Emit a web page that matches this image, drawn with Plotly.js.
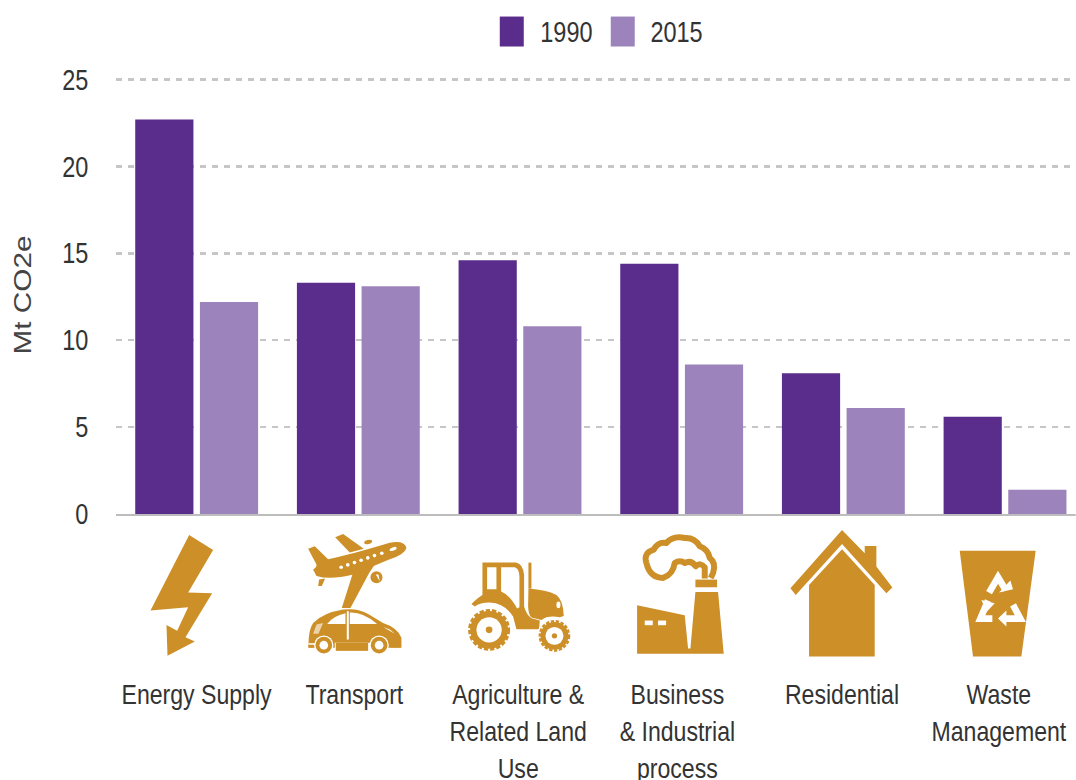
<!DOCTYPE html>
<html>
<head>
<meta charset="utf-8">
<script src="https://cdn.plot.ly/plotly-3.0.1.min.js"></script>
<style>
html,body{margin:0;padding:0;background:#fff;overflow:hidden;width:1076px;height:780px}
#chart{transform:scaleX(0.81);transform-origin:0 0}
</style>
</head>
<body>
<div id="chart"></div>
<script>
const categories = ["Energy Supply","Transport","Agriculture &<br>Related Land<br>Use","Business<br>& Industrial<br>process","Residential","Waste<br>Management"];
const labelShift = [0,-4,-2,-4,-1,-6];
const values1990 = [22.7,13.3,14.6,14.4,8.1,5.6];
const values2015 = [12.2,13.1,10.8,8.6,6.1,1.4];
const yTicks = [0,5,10,15,20,25];
const colour1990 = "#5a2d8c", colour2015 = "#9c83bc", iconColour = "#cd8f28";
const FONT = '"Liberation Sans",Arial,sans-serif';
const TEXT = "#333333";

// the reference is a horizontally squeezed picture; the page does the same
const S=0.81;
const yTop=25.2;
const L=116,B=514,W=960,H=435*yTop/25;
const px=x=>(x-L)/W, py=y=>(B-y)/H;

const G=iconColour;
const icons=[
 {o:[120,520,110,150],s:`<polygon fill="${G}" points="208,45 280,90 205,218 277,220 197,352 225,365 143,408 140,315 172,333 205,262 92,272"/>`},
 {o:[300,528,110,135],s:`<g fill="${G}">
   <path d="M25,62 L45,55 L85,94 Q150,80 270,44 Q314,36 320,60 Q314,80 270,94 L160,140 Q90,157 50,144 L40,125 Q52,118 50,110 Z"/>
   <path d="M106,28 L130,18 L192,62 L150,74 Z"/>
   <path d="M160,133 L228,105 L208,135 L152,240 L126,240 Z"/>
   <ellipse cx="205" cy="42" rx="12" ry="6" transform="rotate(-15 205 42)"/>
   <circle cx="230" cy="148" r="18"/>
   <path d="M58,155 L76,152 L66,174 L55,174 Z"/>
   <path d="M26,352 Q26,305 40,285 Q70,255 130,245 Q175,240 205,258 L250,285 Q295,300 305,330 L305,360 H262 V345 H205 V345 H105 V360 H26 Z"/>
   </g>
   <g fill="#fff">
   <circle cx="124" cy="118" r="5.5"/><circle cx="144" cy="111" r="5.5"/><circle cx="164" cy="104" r="5.5"/><circle cx="184" cy="97" r="5.5"/><circle cx="204" cy="90" r="5.5"/><circle cx="224" cy="83" r="5.5"/><circle cx="246" cy="76" r="5.5"/>
   <ellipse cx="280" cy="63" rx="11" ry="5" transform="rotate(-20 280 63)"/>
   <path d="M228,140 L240,160 L236,140 Z"/>
   <path d="M82,288 Q100,264 137,256 V288 Z"/>
   <path d="M150,254 Q190,252 232,288 H150 Z"/>
   <rect x="141" y="250" width="6" height="85"/>
   <path d="M50,290 L40,318 L56,318 L70,285 Z" fill-opacity="0.6"/>
   <path d="M250,297 L285,318 L270,305 Z"/>
   <circle cx="72" cy="352" r="29"/><circle cx="238" cy="352" r="29"/>
   <rect x="26" y="346" width="20" height="5"/>
   </g>
   <g fill="${G}"><rect x="108" y="345" width="97" height="24"/><circle cx="72" cy="352" r="25"/><circle cx="238" cy="352" r="25"/><rect x="26" y="351" width="14" height="8"/><rect x="272" y="351" width="30" height="8"/></g>
   <g fill="#fff"><circle cx="72" cy="352" r="13"/><circle cx="238" cy="352" r="13"/></g>`},
 {o:[460,550,120,115],s:`<g fill="${G}">
   <path d="M68,38 H168 Q190,42 193,75 L193,170 Q200,195 215,205 L240,212 L238,238 H170 L160,200 Q135,160 90,158 Q60,158 45,170 L35,162 Q55,142 68,135 Z"/>
   <rect x="206" y="38" width="9" height="78"/>
   <path d="M206,116 Q260,120 290,135 Q310,150 312,198 L300,202 Q265,195 245,210 L215,203 Q206,195 205,170 Z"/></g>
   <rect x="82" y="52" width="28" height="66" fill="#fff"/>
   <path d="M124,52 H165 Q178,55 179,80 V172 L172,176 Q150,135 124,125 Z" fill="#fff"/>
   <ellipse cx="296" cy="165" rx="6" ry="10" fill="#fff"/>
   <circle cx="88" cy="240" r="70" fill="#fff"/><circle cx="284" cy="258" r="52" fill="#fff"/>
   <circle cx="88" cy="240" r="57" fill="${G}"/>
   <circle cx="88" cy="240" r="59" fill="none" stroke="${G}" stroke-width="8" stroke-dasharray="13 6"/>
   <circle cx="88" cy="240" r="38" fill="#fff"/><circle cx="88" cy="240" r="10" fill="${G}"/>
   <circle cx="284" cy="258" r="42" fill="${G}"/>
   <circle cx="284" cy="258" r="44" fill="none" stroke="${G}" stroke-width="7" stroke-dasharray="10 5"/>
   <circle cx="284" cy="258" r="27" fill="#fff"/><circle cx="284" cy="258" r="8" fill="${G}"/>`},
 {o:[630,528,100,135],s:`<path fill="${G}" d="M22,232 L165,262 L175,362 H182 L197,192 H265 L282,378 H22 Z"/>
   <rect x="197" y="155" width="65" height="23" fill="${G}"/>
   <rect x="45" y="278" width="24" height="14" fill="#fff"/><rect x="85" y="278" width="24" height="14" fill="#fff"/>
   <path fill="none" stroke="${G}" stroke-width="18" stroke-linejoin="round" d="M50,105 Q40,75 72,65 Q85,40 110,45 Q130,22 165,30 Q195,28 210,55 Q235,65 240,90 Q260,105 250,135 L243,150 M225,152 V118 Q212,102 198,115 Q185,95 165,105 Q150,95 135,105 Q130,140 100,150 Q60,150 50,105"/>`},
 {o:[789,525,110,135],s:`<g fill="${G}"><polygon points="160,15 228,85 228,63 263,63 263,125 311,188 293,205 160,57 21,210 5,190"/><polygon points="160,73 258,180 258,395 61,395 61,180"/></g>`},
 {o:[950,540,100,125],s:`<polygon fill="${G}" points="30,32 258,32 215,350 70,350"/>
   <g fill="none" stroke="#fff" stroke-width="20" stroke-linejoin="miter"><path d="M118,158 L145,112 L168,150"/><path d="M115,182 L92,236 H128"/><path d="M190,195 L212,236 H168"/></g>
   <g fill="#fff"><polygon points="148,158 190,148 182,122"/><polygon points="95,180 135,190 112,215"/><polygon points="170,212 170,260 145,236"/></g>`}
];
const images=icons.map(ic=>{
  const [x,y,w,h]=ic.o;
  const svg=`<svg xmlns="http://www.w3.org/2000/svg" width="${w*3}" height="${h*3}" viewBox="0 0 ${w*3} ${h*3}" preserveAspectRatio="none">${ic.s}</svg>`;
  return {source:"data:image/svg+xml;charset=utf-8,"+encodeURIComponent(svg),xref:"paper",yref:"paper",x:px(x),y:py(y),sizex:w/W,sizey:h/H,xanchor:"left",yanchor:"top",sizing:"stretch",layer:"above"};
});

const legendItems=[["1990",colour1990,500,539],["2015",colour2015,611,649]];
const shapes=legendItems.map(l=>({type:"rect",xref:"paper",yref:"paper",x0:px(l[2]),x1:px(l[2]+24),y0:py(46),y1:py(16),fillcolor:l[1],line:{width:0}}));
const annotations=legendItems.map(l=>({text:l[0],xref:"paper",yref:"paper",x:px(l[3]),y:py(31),xanchor:"left",yanchor:"middle",showarrow:false,font:{family:FONT,size:29,color:TEXT}}));
categories.forEach((c,i)=>annotations.push({text:c,xref:"x",yref:"paper",x:i,y:0,xshift:labelShift[i]/S,yshift:-162,xanchor:"center",yanchor:"top",align:"center",showarrow:false,font:{family:FONT,size:28.5,color:TEXT}}));

Plotly.newPlot("chart",[
 {type:"bar",name:"1990",x:categories,y:values1990,marker:{color:colour1990}},
 {type:"bar",name:"2015",x:categories,y:values2015,marker:{color:colour2015}}
],{
 width:1076/S,height:780,showlegend:false,barmode:"group",bargap:0.2,bargroupgap:0.1,
 paper_bgcolor:"#fff",plot_bgcolor:"#fff",
 margin:{l:L/S,r:0,t:B-H,b:780-B,pad:0},
 xaxis:{type:"category",range:[-0.5,5.437],showticklabels:false,ticks:"",showgrid:false,zeroline:false,showline:true,linecolor:"#bdbdbd",linewidth:2,fixedrange:true},
 yaxis:{range:[0,yTop],tickvals:yTicks,ticks:"",showline:false,zeroline:false,showgrid:true,gridcolor:"#c6c6c6",gridwidth:2.5,griddash:(6/S)+"px,"+(6/S)+"px",ticklabelstandoff:Math.round(27/S),
   tickfont:{family:FONT,size:29,color:TEXT},
   title:{text:"Mt CO2e",standoff:28,font:{family:FONT,size:29.75,color:"#444"}},fixedrange:true},
 images,shapes,annotations
},{staticPlot:true,displayModeBar:false});
</script>
</body>
</html>
